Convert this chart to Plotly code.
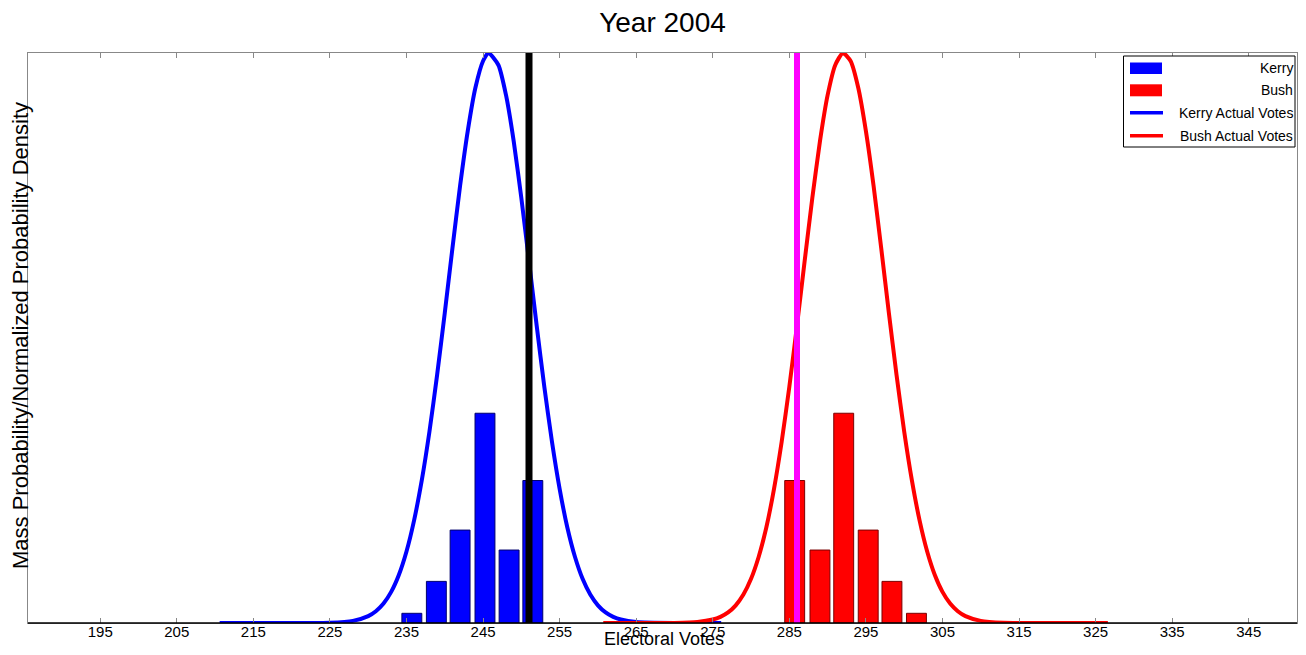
import plotly.graph_objects as go

# ---------------- data ----------------
kerry_bar_x = [235.7, 238.9, 242.0, 245.25, 248.4, 251.5]
kerry_bar_p = [0.017, 0.073, 0.163, 0.368, 0.128, 0.250]
bush_bar_x = [285.7, 289.0, 292.1, 295.3, 298.4, 301.6]
bush_bar_p = [0.250, 0.128, 0.368, 0.163, 0.073, 0.017]

kerry_curve_x = [210.6, 220, 225, 228, 230, 231, 232, 233, 234, 235, 236, 237, 238, 239,
                 240, 241, 242, 243, 244, 245, 245.7, 247, 248, 249, 250, 251, 252, 253,
                 254, 255, 256, 257, 258, 259, 260, 261, 262, 263, 265, 270, 276.1]
kerry_curve_y = [0.0, 0.0, 0.0005, 0.0037, 0.0121, 0.0207, 0.0342, 0.0546, 0.0843, 0.1255,
                 0.1805, 0.2506, 0.336, 0.4353, 0.544, 0.6575, 0.767, 0.863, 0.939, 0.986,
                 1.0, 0.979, 0.926, 0.8454, 0.7455, 0.6349, 0.522, 0.4145, 0.318, 0.2354,
                 0.168, 0.1162, 0.0775, 0.0499, 0.031, 0.0186, 0.0108, 0.00605, 0.0017,
                 0.0, 0.0]
bush_curve_x = [260.7, 266, 270, 273, 275, 276, 277, 278, 279, 280, 281, 282, 283, 284,
                285, 286, 287, 288, 289, 290, 291, 292.0, 293, 294, 295, 296, 297, 298,
                299, 300, 301, 302, 303, 304, 305, 306, 307, 308, 310, 313, 318, 326.6]
bush_curve_y = [0.0, 0.0, 0.0002, 0.0017, 0.00605, 0.0108, 0.0186, 0.031, 0.0499, 0.0775,
                0.1162, 0.168, 0.2354, 0.318, 0.4145, 0.522, 0.6349, 0.7455, 0.8454, 0.926,
                0.979, 1.0, 0.986, 0.939, 0.863, 0.767, 0.6575, 0.544, 0.4353, 0.336,
                0.2506, 0.1805, 0.1255, 0.0843, 0.0546, 0.0342, 0.0207, 0.0121, 0.0037,
                0.0005, 0.0, 0.0]

kerry_actual = 251
bush_actual = 286

tick_vals = [195, 205, 215, 225, 235, 245, 255, 265, 275, 285, 295, 305, 315, 325, 335, 345]
tick_text = [str(v) for v in tick_vals]

legend_labels = ["Kerry", "Bush", "Kerry Actual Votes", "Bush Actual Votes"]

FONT = "Liberation Sans, Arial, Helvetica, sans-serif"

fig = go.Figure()

fig.add_trace(go.Bar(x=kerry_bar_x, y=kerry_bar_p, width=2.6, name="Kerry",
                     marker=dict(color="#0000ff", line=dict(color="#00006e", width=1))))
fig.add_trace(go.Bar(x=bush_bar_x, y=bush_bar_p, width=2.6, name="Bush",
                     marker=dict(color="#ff0000", line=dict(color="#7a0000", width=1))))
fig.add_trace(go.Scatter(x=kerry_curve_x, y=kerry_curve_y, mode="lines",
                         name="Kerry Actual Votes",
                         line=dict(color="#0000ff", width=4, shape="spline", smoothing=0.6)))
fig.add_trace(go.Scatter(x=bush_curve_x, y=bush_curve_y, mode="lines",
                         name="Bush Actual Votes",
                         line=dict(color="#ff0000", width=4, shape="spline", smoothing=0.6)))
fig.add_trace(go.Scatter(x=[kerry_actual, kerry_actual], y=[0, 1], mode="lines",
                         line=dict(color="#000000", width=7), showlegend=False))
fig.add_trace(go.Scatter(x=[bush_actual, bush_actual], y=[0, 1], mode="lines",
                         line=dict(color="#ff00ff", width=6), showlegend=False))

# The page body has an 8px margin: the figure is sized so the whole page is 1306x655.
# Helpers below convert page pixel positions to paper coordinates.
L, W, T, H = 28, 1269, 53, 570


def px(xp):
    return (xp - L) / W


def py(yp):
    return (T + H - yp) / H


shapes = [
    dict(type="rect", xref="paper", yref="paper", x0=px(1123.5), x1=px(1295), y0=py(147),
         y1=py(56), line=dict(color="black", width=1), fillcolor="white", layer="above"),
    dict(type="rect", xref="paper", yref="paper", x0=px(1130), x1=px(1162), y0=py(74),
         y1=py(62.5), line=dict(width=0), fillcolor="#0000ff", layer="above"),
    dict(type="rect", xref="paper", yref="paper", x0=px(1130), x1=px(1162), y0=py(96.3),
         y1=py(84.3), line=dict(width=0), fillcolor="#ff0000", layer="above"),
    dict(type="line", xref="paper", yref="paper", x0=px(1130), x1=px(1163), y0=py(112.7),
         y1=py(112.7), line=dict(color="#0000ff", width=3.5), layer="above"),
    dict(type="line", xref="paper", yref="paper", x0=px(1130), x1=px(1163), y0=py(135.7),
         y1=py(135.7), line=dict(color="#ff0000", width=3.5), layer="above"),
    # bottom spine (darker than the others)
    dict(type="line", xref="paper", yref="paper", x0=0, x1=1, y0=0, y1=0,
         line=dict(color="black", width=1.5), layer="above"),
]

annotations = []
for lab, yc in zip(legend_labels, [68.3, 90.3, 112.7, 135.7]):
    annotations.append(dict(text=lab, xref="paper", yref="paper", x=px(1294.5), y=py(yc),
                            xanchor="right", yanchor="middle", showarrow=False,
                            font=dict(family=FONT, size=14, color="black")))

annotations.append(dict(text="Electoral Votes", xref="paper", yref="paper", x=px(664),
                        y=py(639), xanchor="center", yanchor="middle", showarrow=False,
                        font=dict(family=FONT, size=18, color="black")))
annotations.append(dict(text="Mass Probability/Normalized Probability Density",
                        xref="paper", yref="paper", x=px(20), y=py(336), textangle=-90,
                        xanchor="center", yanchor="middle", showarrow=False,
                        font=dict(family=FONT, size=22, color="black")))

fig.update_layout(
    width=1290, height=639,
    margin=dict(l=20, r=1, t=45, b=24),
    paper_bgcolor="white", plot_bgcolor="white",
    barmode="overlay",
    showlegend=False,
    title=dict(text="Year 2004", x=0.5, xref="paper", xanchor="center",
               y=1 - 14 / 639, yanchor="middle",
               font=dict(family=FONT, size=28, color="black")),
    xaxis=dict(range=[185.57, 351.30], tickvals=tick_vals, ticktext=tick_text,
               ticks="inside", ticklen=5, tickcolor="#888888", tickwidth=1,
               showline=True, linecolor="#888888", linewidth=1, mirror="ticks",
               showgrid=False, zeroline=False, ticklabelstandoff=-5,
               tickfont=dict(family=FONT, size=15, color="black")),
    yaxis=dict(range=[0, 1], showticklabels=False, ticks="", showline=True,
               linecolor="#888888", linewidth=1, mirror=True, showgrid=False,
               zeroline=False),
    shapes=shapes,
    annotations=annotations,
)

fig.write_html("out.html")
